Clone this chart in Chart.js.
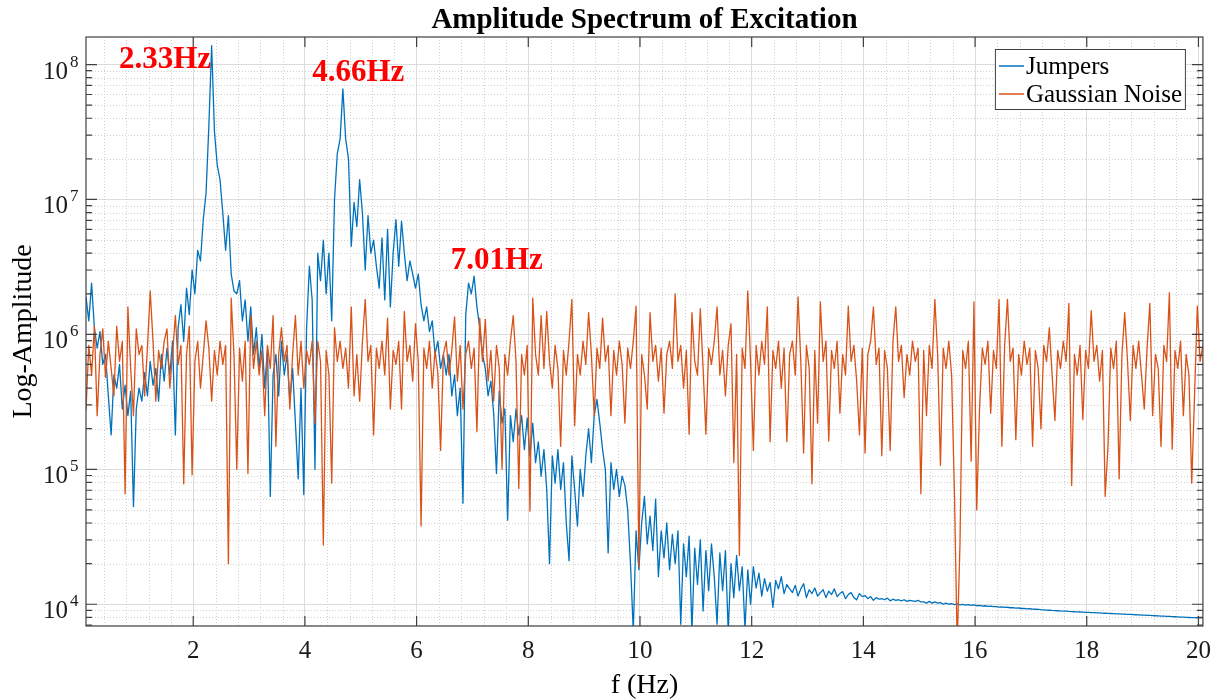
<!DOCTYPE html>
<html>
<head>
<meta charset="utf-8">
<title>Amplitude Spectrum of Excitation</title>
<script src="https://cdn.jsdelivr.net/npm/chart.js@4.4.0/dist/chart.umd.min.js"></script>
<style>
  html, body { margin: 0; padding: 0; background: #fff; }
  #spectrum { display: block; }
</style>
</head>
<body>
<canvas id="spectrum" width="1221" height="700"></canvas>
<script>
// FFT bins: first bin and bin width (Hz)
const F_START = 0.08;
const F_STEP = 0.05;

// amplitudes, one per bin (rows of 10 bins = 0.5 Hz)
const jumpers = [
    1.9e6, 1.26e6, 2.4e6, 1.12e6, 7.9e5, 1.05e6, 6.0e5, 7.1e5, 3.5e5, 1.8e5,
    5.0e5, 4.0e5, 6.0e5, 2.8e5, 4.2e5, 2.5e5, 3.8e5, 5.3e4, 2.8e5, 4.0e5,
    3.2e5, 5.2e5, 3.5e5, 6.3e5, 4.2e5, 5.6e5, 3.2e5, 7.1e5, 4.5e5, 7.9e5,
    5.0e5, 8.9e5, 1.8e5, 1.12e6, 1.66e6, 8.9e5, 2.2e6, 1.4e6, 3.0e6, 2.0e6,
    4.2e6, 3.5e6, 7.1e6, 1.12e7, 3.5e7, 1.38e8, 3.2e7, 1.8e7, 1.4e7, 7.9e6,
    4.2e6, 7.6e6, 2.8e6, 2.1e6, 2.0e6, 2.5e6, 1.26e6, 1.8e6, 8.9e5, 1.6e6,
    7.1e5, 1.12e6, 5.6e5, 1.0e6, 4.0e5, 7.9e5, 6.3e4, 5.0e5, 7.1e5, 3.5e5,
    8.9e5, 5.0e5, 7.1e5, 3.2e5, 5.6e5, 2.2e5, 8.5e4, 4.0e5, 6.5e4, 1.12e6,
    3.2e6, 1.8e6, 1.0e5, 4.0e6, 2.5e6, 5.0e6, 2.0e6, 4.0e6, 1.26e6, 1.0e7,
    2.2e7, 2.8e7, 6.6e7, 2.8e7, 2.0e7, 4.5e6, 9.5e6, 6.3e6, 1.4e7, 7.9e6,
    3.0e6, 7.6e6, 4.0e6, 5.0e6, 3.2e6, 2.2e6, 5.2e6, 1.8e6, 6.0e6, 1.6e6,
    4.0e6, 7.1e6, 3.2e6, 6.9e6, 4.0e6, 2.5e6, 3.5e6, 2.8e6, 2.2e6, 2.8e6,
    1.66e6, 1.26e6, 1.6e6, 1.05e6, 1.26e6, 7.1e5, 8.9e5, 5.6e5, 7.1e5, 5.0e5,
    7.1e5, 3.5e5, 5.0e5, 2.5e5, 4.0e5, 5.6e4, 1.4e6, 2.4e6, 2.0e6, 2.7e6,
    1.6e6, 1.12e6, 7.1e5, 5.6e5, 3.5e5, 4.5e5, 2.6e5, 9.3e4, 3.8e5, 2.2e5,
    2.8e5, 4.2e4, 2.5e5, 1.6e5, 2.8e5, 1.8e5, 2.5e5, 1.4e5, 2.4e5, 1.26e5,
    2.2e5, 1.12e5, 1.6e5, 8.9e4, 1.4e5, 7.1e4, 2.0e4, 1.26e5, 7.9e4, 1.4e5,
    7.1e4, 1.12e5, 4.0e4, 2.1e4, 1.26e5, 7.1e4, 3.8e4, 1.0e5, 6.3e4, 1.26e5,
    2.0e5, 1.12e5, 2.5e5, 3.3e5, 2.2e5, 1.4e5, 1.0e5, 2.4e4, 1.12e5, 7.1e4,
    1.0e5, 6.3e4, 8.9e4, 7.6e4, 5.0e4, 2.0e4, 6.3e3, 3.5e4, 1.8e4, 4.0e4,
    6.3e4, 2.8e4, 4.5e4, 2.5e4, 6.0e4, 1.6e4, 3.5e4, 2.2e4, 4.0e4, 1.8e4,
    3.3e4, 2.0e4, 3.5e4, 7.1e3, 2.8e4, 1.6e4, 3.2e4, 6.3e3, 2.6e4, 1.4e4,
    3.0e4, 8.9e3, 2.5e4, 1.26e4, 2.8e4, 1.6e4, 7.1e3, 2.4e4, 1.26e4, 2.5e4,
    6.3e3, 2.0e4, 1.12e4, 2.3e4, 1.26e4, 1.9e4, 6.6e3, 1.8e4, 1.0e4, 1.9e4,
    1.32e4, 1.7e4, 1.15e4, 1.55e4, 1.25e4, 1.45e4, 9.5e3, 1.5e4, 1.3e4, 1.6e4,
    1.2e4, 1.4e4, 1.3e4, 1.22e4, 1.38e4, 1.15e4, 1.3e4, 1.42e4, 1.12e4, 1.28e4,
    1.2e4, 1.32e4, 1.15e4, 1.22e4, 1.28e4, 1.12e4, 1.25e4, 1.18e4, 1.3e4, 1.14e4,
    1.2e4, 1.24e4, 1.1e4, 1.18e4, 1.22e4, 1.12e4, 1.08e4, 1.2e4, 1.14e4, 1.16e4,
    1.1e4, 1.14e4, 1.07e4, 1.12e4, 1.09e4, 1.1e4, 1.08e4, 1.11e4, 1.06e4, 1.09e4,
    1.07e4, 1.08e4, 1.06e4, 1.08e4, 1.05e4, 1.07e4, 1.06e4, 1.05e4, 1.07e4, 1.04e4,
    1.04e4, 1.02e4, 1.05e4, 1.02e4, 1.04e4, 1.02e4, 1.03e4, 1.0e4, 1.02e4, 1.0e4,
    1.01e4, 9.95e3, 1.005e4, 9.9e3, 9.98e3, 9.85e3, 9.95e3, 9.8e3, 9.9e3, 9.75e3,
    9.8e3, 9.7e3, 9.75e3, 9.65e3, 9.7e3, 9.6e3, 9.62e3, 9.52e3, 9.58e3, 9.48e3,
    9.5e3, 9.42e3, 9.45e3, 9.36e3, 9.38e3, 9.3e3, 9.32e3, 9.25e3, 9.26e3, 9.2e3,
    9.18e3, 9.15e3, 9.12e3, 9.1e3, 9.06e3, 9.03e3, 9.0e3, 8.98e3, 8.95e3, 8.92e3,
    8.9e3, 8.88e3, 8.85e3, 8.83e3, 8.8e3, 8.78e3, 8.76e3, 8.74e3, 8.72e3, 8.7e3,
    8.68e3, 8.66e3, 8.64e3, 8.62e3, 8.6e3, 8.58e3, 8.56e3, 8.54e3, 8.52e3, 8.5e3,
    8.48e3, 8.46e3, 8.44e3, 8.42e3, 8.4e3, 8.38e3, 8.36e3, 8.34e3, 8.32e3, 8.3e3,
    8.28e3, 8.26e3, 8.24e3, 8.22e3, 8.2e3, 8.18e3, 8.16e3, 8.14e3, 8.12e3, 8.1e3,
    8.08e3, 8.06e3, 8.04e3, 8.02e3, 8.0e3, 7.98e3, 7.96e3, 7.95e3, 7.94e3, 7.93e3,
    7.92e3
];

const gaussianNoise = [
    2.75e5, 8.3e5, 5.0e5, 1.15e6, 2.5e5, 7.1e5, 1.1e6, 4.8e5, 8.9e5, 5.6e5,
    3.5e5, 1.15e6, 6.3e5, 8.9e5, 6.6e4, 1.6e6, 5.6e5, 2.5e5, 1.1e6, 7.1e5,
    8.3e5, 3.5e5, 7.9e5, 2.1e6, 8.9e5, 3.2e5, 7.6e5, 5.6e5, 8.9e5, 1.1e6,
    4.0e5, 7.1e5, 1.38e6, 6.0e5, 8.3e5, 7.8e4, 7.1e5, 1.15e6, 9.1e4, 6.3e5,
    8.9e5, 4.0e5, 7.1e5, 1.26e6, 7.9e5, 3.2e5, 7.6e5, 5.0e5, 8.9e5, 6.0e5,
    8.3e5, 2.0e4, 1.86e6, 7.1e5, 1.0e5, 7.9e5, 4.5e5, 8.9e5, 9.3e4, 1.38e6,
    5.6e5, 8.9e5, 5.0e5, 7.6e5, 2.5e5, 8.3e5, 5.6e5, 1.38e6, 1.48e5, 7.1e5,
    1.12e6, 6.3e5, 8.3e5, 2.8e5, 7.1e5, 1.38e6, 5.0e5, 8.9e5, 4.0e5, 7.6e5,
    6.0e5, 8.9e5, 2.2e5, 8.9e5, 6.3e5, 2.75e4, 7.6e5, 5.0e5, 7.9e4, 1.12e6,
    6.3e5, 8.9e5, 5.6e5, 7.9e5, 4.0e5, 1.6e6, 3.5e5, 7.1e5, 3.2e5, 8.9e5,
    1.82e6, 6.3e5, 8.3e5, 1.8e5, 7.9e5, 5.6e5, 8.9e5, 5.0e5, 1.32e6, 2.8e5,
    7.6e5, 6.0e5, 8.9e5, 2.8e5, 1.48e6, 6.3e5, 8.3e5, 4.5e5, 1.2e6, 6.3e5,
    3.8e4, 7.9e5, 5.6e5, 8.9e5, 4.0e5, 7.6e5, 5.2e5, 1.38e5, 7.1e5, 8.9e5,
    5.0e5, 7.6e5, 1.35e6, 4.5e5, 8.3e5, 2.8e5, 7.1e5, 8.9e5, 5.6e5, 7.9e5,
    1.9e5, 1.32e6, 6.3e5, 1.29e6, 4.5e5, 7.6e5, 3.2e5, 8.3e5, 5.6e5, 1.0e5,
    7.1e5, 5.0e5, 8.9e5, 1.38e6, 6.3e5, 7.2e4, 7.1e5, 5.0e5, 8.3e5, 4.9e4,
    1.86e6, 7.1e5, 5.0e5, 1.38e6, 5.6e5, 1.48e6, 6.3e5, 4.0e5, 8.3e5, 5.6e5,
    1.48e5, 7.6e5, 5.0e5, 8.9e5, 1.82e6, 2.1e5, 7.1e5, 5.0e5, 8.9e5, 6.0e5,
    1.45e6, 7.1e5, 2.5e5, 7.9e5, 5.6e5, 1.32e6, 6.3e5, 8.3e5, 2.5e5, 7.6e5,
    5.0e5, 8.9e5, 6.0e5, 2.2e5, 7.9e5, 5.6e5, 8.9e5, 1.62e6, 1.9e4, 7.1e5,
    5.0e5, 2.8e5, 1.45e6, 6.3e5, 8.3e5, 4.5e5, 7.9e5, 2.6e5, 7.1e5, 8.9e5,
    5.6e5, 2.0e6, 6.3e5, 8.3e5, 4.0e5, 7.6e5, 1.82e5, 1.45e6, 6.3e5, 5.0e5,
    1.55e6, 5.6e5, 1.82e5, 7.9e5, 6.0e5, 8.9e5, 1.6e6, 5.0e5, 7.6e5, 3.5e5,
    8.3e5, 1.2e6, 1.12e5, 7.1e5, 2.3e4, 7.9e5, 5.6e5, 2.1e6, 6.3e5, 1.38e5,
    8.3e5, 5.0e5, 8.9e5, 6.0e5, 1.6e6, 1.6e5, 7.6e5, 5.6e5, 8.9e5, 4.0e5,
    7.9e5, 1.6e5, 7.1e5, 8.9e5, 5.0e5, 1.9e6, 6.3e5, 1.32e5, 8.3e5, 5.6e5,
    7.8e4, 7.6e5, 2.2e5, 1.74e6, 6.3e5, 8.9e5, 1.62e5, 7.6e5, 5.6e5, 8.9e5,
    2.6e5, 7.1e5, 5.0e5, 1.62e6, 6.3e5, 8.3e5, 4.5e5, 1.8e5, 7.9e5, 1.32e5,
    7.1e5, 8.9e5, 1.6e6, 6.0e5, 7.9e5, 1.26e5, 7.6e5, 5.6e5, 1.38e5, 8.9e5,
    1.6e6, 6.3e5, 8.3e5, 3.4e5, 7.1e5, 5.0e5, 8.9e5, 6.3e5, 7.9e5, 6.6e4,
    7.6e5, 2.5e5, 8.3e5, 5.6e5, 1.82e6, 7.1e5, 1.07e5, 7.9e5, 5.6e5, 8.9e5,
    5.0e5, 6.9e4, 5.0e3, 2.8e4, 7.6e5, 5.6e5, 8.9e5, 1.15e5, 1.74e6, 5.0e4,
    2.8e5, 7.9e5, 6.0e5, 8.9e5, 2.6e5, 7.6e5, 5.6e5, 1.82e6, 1.48e5, 8.3e5,
    1.82e6, 6.3e5, 7.9e5, 1.66e5, 7.1e5, 5.0e5, 8.9e5, 6.0e5, 7.9e5, 1.48e5,
    7.6e5, 5.6e5, 2.0e5, 8.3e5, 6.3e5, 1.12e6, 5.0e5, 2.3e5, 7.6e5, 5.6e5,
    8.9e5, 6.3e5, 1.7e6, 7.6e4, 7.1e5, 5.0e5, 8.3e5, 2.34e5, 7.6e5, 5.6e5,
    1.5e6, 6.3e5, 8.3e5, 4.5e5, 7.6e5, 6.3e4, 1.48e5, 7.9e5, 5.6e5, 8.9e5,
    8.5e4, 7.1e5, 1.45e6, 6.3e5, 2.3e5, 8.3e5, 5.6e5, 8.9e5, 5.0e5, 2.8e5,
    7.9e5, 1.7e6, 2.5e5, 7.1e5, 5.6e5, 1.48e5, 8.3e5, 6.3e5, 2.04e6, 1.41e5,
    7.6e5, 5.6e5, 8.9e5, 2.5e5, 7.1e5, 5.0e5, 7.9e4, 3.5e5, 1.62e6, 6.3e5,
    8.3e5
];

const seriesNames = ['Jumpers', 'Gaussian Noise'];
const seriesColors = ['#0072BD', '#D95319'];

const xTicks = [2, 4, 6, 8, 10, 12, 14, 16, 18, 20];
const yDecades = [1e4, 1e5, 1e6, 1e7, 1e8];

// red peak call-outs: text, left edge (Hz), vertical centre (amplitude)
const peakLabels = ['2.33Hz', '4.66Hz', '7.01Hz'];
const peakLabelFreq = [0.67, 4.13, 6.61];
const peakLabelAmp = [1.08e8, 8.6e7, 3.5e6];

const freqs = jumpers.map((_, i) => +(F_START + i * F_STEP).toFixed(2));

const SERIF = '"Liberation Serif", "Times New Roman", serif';
const AXIS_COLOR = '#404040';

const matlabAxes = {
    id: 'matlabAxes',
    beforeDatasetsDraw(chart) {
        const { ctx, chartArea: a } = chart;
        const xs = chart.scales.x, ys = chart.scales.y;
        ctx.save();
        ctx.strokeStyle = '#cfcfcf';
        ctx.lineWidth = 1;
        ctx.setLineDash([1, 2]);
        ctx.beginPath();
        // minor x grid: 5 divisions per major step
        const minor = (xTicks[1] - xTicks[0]) / 5;
        for (let k = Math.ceil(xs.min / minor); k * minor <= xs.max; k++) {
            if (k % 5 === 0) continue;
            const px = Math.round(xs.getPixelForValue(k * minor)) + 0.5;
            ctx.moveTo(px, a.top);
            ctx.lineTo(px, a.bottom);
        }
        // minor y grid: 2..9 x 10^n
        for (let e = 3; e <= 8; e++) {
            for (let m = 2; m <= 9; m++) {
                const v = m * Math.pow(10, e);
                if (v < ys.min || v > ys.max) continue;
                const py = Math.round(ys.getPixelForValue(v)) + 0.5;
                ctx.moveTo(a.left, py);
                ctx.lineTo(a.right, py);
            }
        }
        ctx.stroke();
        ctx.restore();
    },
    afterDatasetsDraw(chart) {
        const { ctx, chartArea: a } = chart;
        const xs = chart.scales.x, ys = chart.scales.y;
        ctx.save();

        // box + inward ticks
        ctx.strokeStyle = AXIS_COLOR;
        ctx.lineWidth = 1.2;
        ctx.strokeRect(a.left, a.top, a.right - a.left, a.bottom - a.top);
        ctx.beginPath();
        xTicks.forEach(v => {
            const px = xs.getPixelForValue(v);
            ctx.moveTo(px, a.bottom); ctx.lineTo(px, a.bottom - 10);
            ctx.moveTo(px, a.top); ctx.lineTo(px, a.top + 10);
        });
        for (let e = 3; e <= 8; e++) {
            for (let m = 1; m <= 9; m++) {
                const v = m * Math.pow(10, e);
                if (v < ys.min || v > ys.max) continue;
                const py = ys.getPixelForValue(v);
                const len = m === 1 ? 11 : 6;
                ctx.moveTo(a.left, py); ctx.lineTo(a.left + len, py);
                ctx.moveTo(a.right, py); ctx.lineTo(a.right - len, py);
            }
        }
        ctx.stroke();

        // y tick labels as 10 with superscript exponent
        ctx.fillStyle = '#1a1a1a';
        ctx.textBaseline = 'alphabetic';
        yDecades.forEach(v => {
            const py = ys.getPixelForValue(v);
            const exp = Math.round(Math.log10(v));
            ctx.font = '25px ' + SERIF;
            ctx.textAlign = 'right';
            ctx.fillText('10', a.left - 18, py + 14);
            ctx.font = '17px ' + SERIF;
            ctx.textAlign = 'left';
            ctx.fillText(String(exp), a.left - 16, py + 2);
        });

        // title centred over the axes
        ctx.fillStyle = '#000';
        ctx.font = 'bold 29px ' + SERIF;
        ctx.textAlign = 'center';
        ctx.textBaseline = 'middle';
        ctx.fillText('Amplitude Spectrum of Excitation', (a.left + a.right) / 2, a.top - 16);

        // peak call-outs
        ctx.fillStyle = '#ff0000';
        ctx.font = 'bold 31px ' + SERIF;
        ctx.textAlign = 'left';
        peakLabels.forEach((t, i) => {
            ctx.fillText(t, xs.getPixelForValue(peakLabelFreq[i]), ys.getPixelForValue(peakLabelAmp[i]));
        });

        // legend box, top right inside the axes
        const lw = 190, lh = 60;
        const lx = a.right - 18 - lw, ly = a.top + 12;
        ctx.fillStyle = '#fff';
        ctx.fillRect(lx, ly, lw, lh);
        ctx.strokeStyle = AXIS_COLOR;
        ctx.lineWidth = 1;
        ctx.strokeRect(lx + 0.5, ly + 0.5, lw, lh);
        ctx.font = '25px ' + SERIF;
        ctx.textBaseline = 'middle';
        chart.data.datasets.forEach((ds, i) => {
            const cy = ly + 17 + i * 28;
            ctx.strokeStyle = ds.borderColor;
            ctx.lineWidth = 1.5;
            ctx.beginPath();
            ctx.moveTo(lx + 4, cy);
            ctx.lineTo(lx + 29, cy);
            ctx.stroke();
            ctx.fillStyle = '#000';
            ctx.fillText(ds.label, lx + 31, cy + 1);
        });

        ctx.restore();
    }
};

new Chart(document.getElementById('spectrum'), {
    type: 'line',
    data: {
        datasets: [
            {
                label: seriesNames[0],
                data: freqs.map((f, i) => ({ x: f, y: jumpers[i] })),
                borderColor: seriesColors[0],
                borderWidth: 1.3,
                borderJoinStyle: 'round',
                pointRadius: 0,
                tension: 0,
                order: 1
            },
            {
                label: seriesNames[1],
                data: freqs.map((f, i) => ({ x: f, y: gaussianNoise[i] })),
                borderColor: seriesColors[1],
                borderWidth: 1.3,
                borderJoinStyle: 'round',
                pointRadius: 0,
                tension: 0,
                order: 0
            }
        ]
    },
    options: {
        responsive: false,
        animation: false,
        layout: { padding: { top: 37, right: 14, left: 0, bottom: 0 } },
        plugins: {
            legend: { display: false },
            tooltip: { enabled: false },
            title: { display: false }
        },
        scales: {
            x: {
                type: 'linear',
                min: F_START,
                max: 20.08,
                afterBuildTicks: s => { s.ticks = xTicks.map(v => ({ value: v })); },
                afterFit: s => { s.height = 74; },
                ticks: {
                    autoSkip: false,
                    maxRotation: 0,
                    padding: 10,
                    color: '#1a1a1a',
                    font: { family: SERIF, size: 25 }
                },
                grid: { color: '#dcdcdc', drawTicks: false },
                border: { display: false },
                title: {
                    display: true,
                    text: 'f (Hz)',
                    color: '#000',
                    padding: 0,
                    font: { family: SERIF, size: 28, lineHeight: 1 }
                }
            },
            y: {
                type: 'logarithmic',
                min: 6.9e3,
                max: 1.6e8,
                afterBuildTicks: s => { s.ticks = yDecades.map(v => ({ value: v, major: true })); },
                afterFit: s => { s.width = 86; },
                ticks: { display: false },
                grid: { color: '#dcdcdc', drawTicks: false },
                border: { display: false },
                title: {
                    display: true,
                    text: 'Log-Amplitude',
                    color: '#000',
                    padding: { top: 10, bottom: 0 },
                    font: { family: SERIF, size: 28, lineHeight: 1 }
                }
            }
        }
    },
    plugins: [matlabAxes]
});
</script>
</body>
</html>
